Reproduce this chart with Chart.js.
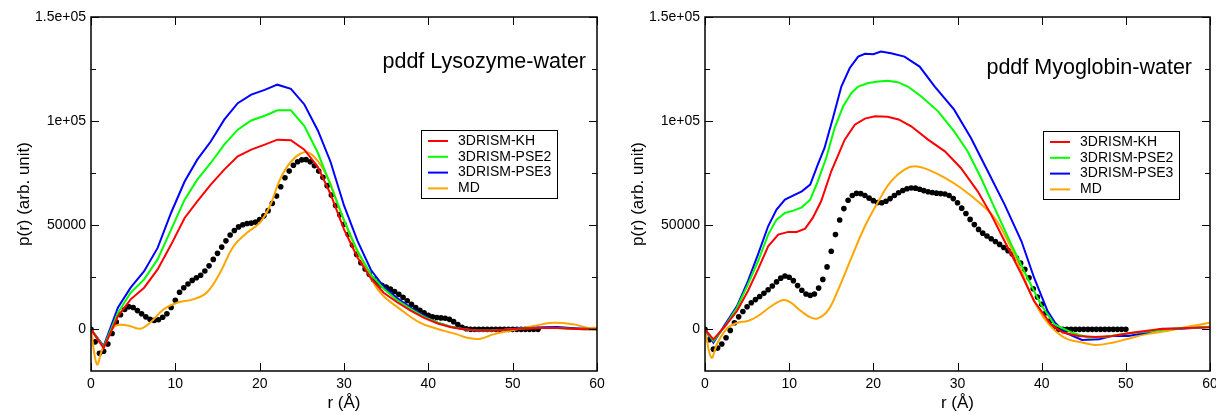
<!DOCTYPE html>
<html>
<head>
<meta charset="utf-8">
<script src="https://cdn.jsdelivr.net/npm/chart.js@4.4.1/dist/chart.umd.min.js"></script>
<style>
  html, body { margin: 0; padding: 0; background: #fff; }
  #wrap { display: flex; width: 1216px; height: 414px; }
</style>
</head>
<body>
<div id="wrap">
  <canvas id="lyso" width="608" height="414"></canvas>
  <canvas id="myo" width="608" height="414"></canvas>
</div>
<script>
const seriesNames = ['3DRISM-KH', '3DRISM-PSE2', '3DRISM-PSE3', 'MD'];
const seriesColors = ['#ff0000', '#00ff00', '#0000ff', '#ffa500'];

const xMajor = [0, 10, 20, 30, 40, 50, 60];
const yMajor = [0, 50000, 100000, 150000];
const yTickText = ['0', '50000', '1e+05', '1.5e+05'];
const yMinor = [25000, 75000, 125000];

// Lysozyme-water
const lysoGridR = [0, 1.5, 3.2, 4.7, 6.3, 7.9, 9.5, 11.1, 12.6, 14.2, 15.8, 17.4, 19.0, 20.6, 22.1, 23.7, 25.3, 26.9, 28.4, 30.0,
  31.6, 33.2, 34.7, 36.3, 37.9, 39.5, 41.1, 42.7, 44.2, 45.8, 47.4, 49.0, 50.6, 52.1, 53.7, 55.3, 56.9, 58.5, 60];
const lysoKH = [0, -9000, 6400, 14400, 20000, 28800, 40700, 53500, 61500, 69500, 76700, 83100, 86300, 88700, 91100, 90800, 86300, 78000, 65000, 48000,
  34500, 24500, 17600, 13000, 9000, 5500, 2800, 1000, 0, -600, -500, -200, 300, 500, 700, 600, 300, 0, 0];
const lysoPSE2 = [0, -8500, 8000, 17600, 24000, 33600, 47900, 62300, 71900, 79900, 88700, 95900, 100300, 102600, 105200, 105200, 97600, 84800, 69200, 52500,
  37600, 26300, 19500, 14000, 9800, 6000, 3200, 1200, 0, -600, -500, -200, 300, 500, 700, 600, 300, 0, 0];
const lysoPSE3 = [0, -8000, 10500, 20000, 27900, 39100, 56000, 71000, 81500, 90200, 100700, 108600, 112700, 115000, 117500, 115500, 108000, 95500, 80500, 59500,
  42500, 28500, 20500, 15000, 10500, 6500, 3200, 1200, 0, -800, -600, -200, 500, 700, 1000, 1100, 700, 300, 0];
const lysoMDR = [0, 0.7, 1.3, 1.9, 2.9, 4.3, 5.8, 7.0, 8.6, 10.2, 12.1, 13.7, 15.3, 16.9, 18.5, 20.0, 21.2, 22.4, 23.6, 25.2,
  26.4, 28.0, 29.5, 31.1, 32.7, 34.3, 36.7, 39.0, 41.0, 43.4, 44.6, 46.2, 47.7, 50.1, 52.5, 54.8, 57.2, 58.8, 60];
const lysoMD = [0, -16800, -10000, -4800, 1600, 1900, 300, 3200, 9600, 12800, 14400, 17600, 27200, 39900, 46400, 51100, 59100, 71900, 79900, 85000,
  83100, 73500, 57500, 41600, 28800, 17600, 9600, 3200, 300, -2400, -4000, -4500, -2400, -300, 1600, 3200, 2400, 800, 800];
// experimental points, every 0.5 A from r = 0
const lysoExpStep = 0.5;
const lysoExp = [0, -6000, -11500, -10500, -7000, -2000, 3500, 7000, 9500, 10800,
  10500, 9000, 7500, 6000, 4800, 4300, 4600, 5800, 7500, 10500,
  14000, 17800, 20000, 21800, 23500, 24800, 26000, 28000, 30500, 33600,
  36500, 39500, 42500, 45300, 47500, 49200, 50200, 50800, 51000, 51500,
  52700, 54500, 57000, 60500, 64000, 68500, 72800, 76000, 78800, 80500,
  81400, 81500, 80500, 78600, 76000, 73000, 69000, 64500, 59500, 55000,
  50500, 45500, 40500, 36000, 32000, 29000, 26500, 24000, 22300, 21200,
  20300, 19300, 18200, 16800, 15400, 13700, 12000, 10500, 9200, 8000,
  6800, 6000, 5700, 5500, 5300, 4800, 3700, 2300, 1000, 300,
  0, 0, 0, 0, 0, 0, 0, 0, 0, 0, 0, 0, 0, 0, 0, 0, 0];

// Myoglobin-water
const myoKHR = [0, 1.0, 2.4, 3.8, 5.1, 6.3, 7.5, 8.7, 9.9, 10.9, 11.9, 12.8, 13.8, 15.0, 16.6, 17.8, 19.0, 20.2, 21.7, 23.0,
  24.5, 26.5, 28.5, 30.4, 32.4, 34.0, 35.6, 37.6, 39.1, 41.1, 42.5, 44.4, 46.4, 48.4, 50.7, 53.9, 56.5, 60];
const myoKH = [0, -4800, 1600, 8800, 18400, 28800, 39900, 45500, 46800, 46800, 48400, 53500, 61500, 75900, 91100, 98300, 101200, 102300, 102100, 100800,
  97500, 91100, 85500, 77500, 66300, 55100, 42300, 26400, 13600, 2400, -1500, -3200, -3700, -3200, -1600, 0, 500, 1000];
const myoPSE2R = [0, 1.0, 2.4, 3.8, 5.1, 6.3, 7.5, 8.5, 9.5, 10.5, 11.5, 12.5, 13.4, 14.4, 15.4, 16.4, 17.4, 18.2, 19.4, 20.6,
  21.7, 22.9, 24.1, 25.7, 27.7, 29.6, 31.2, 32.8, 34.4, 36.4, 38.3, 39.9, 41.5, 43.6, 45.6, 47.6, 49.5, 52.3, 55.5, 58, 60];
const myoPSE2 = [0, -5600, 1600, 10400, 21600, 32700, 45500, 52700, 55900, 57000, 58600, 62300, 71100, 82300, 96700, 107000, 113500, 116600, 118300, 119000,
  119400, 118700, 116600, 111800, 104700, 95100, 85500, 72700, 58300, 40700, 24800, 12000, 2400, -1600, -4000, -3500, -2400, -1100, 300, 800, 1200];
const myoPSE3R = [0, 1.0, 2.4, 3.8, 5.1, 6.3, 7.5, 8.5, 9.5, 10.7, 11.5, 12.5, 13.4, 14.2, 15.2, 16.2, 17.2, 18.2, 19.0, 20.0,
  20.9, 22.1, 23.7, 25.5, 27.3, 29.6, 31.6, 33.6, 35.6, 37.6, 39.1, 40.7, 41.6, 42.8, 44.8, 46.8, 48.3, 50.3, 52.3, 54.3, 56.6, 59.8];
const myoPSE3 = [0, -6400, 2400, 11200, 23200, 36000, 49500, 57500, 62300, 64700, 66300, 69500, 79100, 87100, 101500, 116600, 125500, 131000, 132300, 132100,
  133400, 132600, 131000, 126200, 116600, 105500, 91900, 75900, 59900, 42300, 24800, 8800, 3200, -1600, -5100, -4800, -3200, -3200, -1600, 300, 300, 1100];
const myoMDR = [0, 0.76, 1.5, 2.7, 3.9, 5.1, 6.3, 7.9, 9.3, 10.2, 11.4, 12.6, 13.4, 14.6, 15.8, 17.4, 19.0, 20.6, 22.1, 23.7,
  24.9, 26.5, 28.5, 30.4, 32.4, 34.4, 36.0, 37.6, 39.1, 40.7, 42.7, 44.9, 46.4, 48.4, 50.3, 52.3, 55.5, 57.8, 60];
const myoMD = [0, -13600, -6400, 800, 3200, 4000, 6400, 11200, 14100, 12800, 8800, 5600, 5300, 9000, 18800, 34400, 49500, 61500, 71100, 76700,
  78300, 76700, 72700, 67900, 61500, 53500, 42300, 27900, 13600, 3200, -4000, -6400, -7500, -6400, -4500, -2400, -300, 1600, 3200];
const myoExpStep = 0.5;
const myoExp = [0, -5000, -9500, -9000, -7000, -4000, -500, 3200, 6000, 8600,
  10800, 12800, 14300, 15800, 17300, 19000, 20800, 22800, 24600, 25600,
  25000, 23400, 21000, 18800, 17000, 16300, 17000, 19800, 24000, 30000,
  37500, 45500, 52500, 58000, 62000, 64300, 65300, 65200, 64300, 63000,
  61800, 60900, 60800, 61500, 62800, 64300, 65600, 66700, 67500, 67900,
  67800, 67300, 66600, 66100, 65700, 65400, 65200, 65000, 64300, 62800,
  60800, 58200, 55600, 52800, 50300, 48000, 46200, 44800, 43500, 42200,
  40800, 39300, 37800, 36200, 34200, 31800, 28800, 24800, 19500, 15500,
  12000, 8000, 4000, 1500,
  0, 0, 0, 0, 0, 0, 0, 0, 0, 0, 0, 0, 0, 0, 0, 0, 0];

Chart.defaults.font.family = '"Liberation Sans", Arial, Helvetica, sans-serif';
Chart.defaults.color = '#000';

function pts(rs, vals) {
  return vals.map((v, i) => ({ x: rs[i], y: v }));
}
function expPts(step, vals) {
  return vals.map((v, i) => ({ x: i * step, y: v }));
}

// frame, inward ticks, title text and legend box
const decor = {
  id: 'decor',
  afterDatasetsDraw(chart, args, opts) {
    const { ctx, chartArea: a, scales: { x, y } } = chart;
    ctx.save();
    ctx.strokeStyle = '#000';
    ctx.lineWidth = 1;
    ctx.beginPath();
    xMajor.forEach(v => {
      const px = Math.round(x.getPixelForValue(v)) + 0.5;
      ctx.moveTo(px, a.bottom); ctx.lineTo(px, a.bottom - 8);
      ctx.moveTo(px, a.top); ctx.lineTo(px, a.top + 8);
    });
    yMajor.forEach(v => {
      const py = Math.round(y.getPixelForValue(v)) + 0.5;
      ctx.moveTo(a.left, py); ctx.lineTo(a.left + 8, py);
      ctx.moveTo(a.right, py); ctx.lineTo(a.right - 8, py);
    });
    yMinor.forEach(v => {
      const py = Math.round(y.getPixelForValue(v)) + 0.5;
      ctx.moveTo(a.left, py); ctx.lineTo(a.left + 5, py);
      ctx.moveTo(a.right, py); ctx.lineTo(a.right - 5, py);
    });
    ctx.stroke();
    ctx.lineWidth = 1.5;
    ctx.strokeRect(a.left, a.top, a.width, a.height);

    ctx.fillStyle = '#000';
    ctx.font = '21.5px "Liberation Sans", Arial, sans-serif';
    ctx.textAlign = 'right';
    ctx.textBaseline = 'alphabetic';
    ctx.fillText(opts.title, a.right - opts.titleRight, opts.titleY);

    const lx = opts.legendX, ly = opts.legendY;
    ctx.fillStyle = '#fff';
    ctx.fillRect(lx, ly, 136, 68);
    ctx.lineWidth = 1;
    ctx.strokeStyle = '#000';
    ctx.strokeRect(lx + 0.5, ly + 0.5, 136, 68);
    ctx.font = '14px "Liberation Sans", Arial, sans-serif';
    ctx.textAlign = 'left';
    ctx.textBaseline = 'middle';
    seriesNames.forEach((name, i) => {
      const ry = ly + 11 + i * 15.8;
      ctx.strokeStyle = seriesColors[i];
      ctx.lineWidth = 2;
      ctx.beginPath();
      ctx.moveTo(lx + 7, ry); ctx.lineTo(lx + 27, ry);
      ctx.stroke();
      ctx.fillStyle = '#000';
      ctx.fillText(name, lx + 37, ry);
    });
    ctx.restore();
  }
};

function makeChart(id, lines, exp, o) {
  const datasets = lines.map((d, i) => ({
    label: seriesNames[i],
    data: d,
    borderColor: seriesColors[i],
    backgroundColor: seriesColors[i],
    borderWidth: 2,
    pointRadius: 0,
    tension: i === 3 ? 0.4 : 0,
    fill: false
  }));
  datasets.push({
    label: 'exp',
    data: exp,
    showLine: false,
    pointRadius: 2.8,
    pointBorderWidth: 0,
    backgroundColor: '#000',
    borderColor: '#000'
  });
  return new Chart(document.getElementById(id), {
    type: 'line',
    data: { datasets },
    options: {
      responsive: false,
      animation: false,
      layout: { padding: { left: o.padLeft, right: o.padRight, top: 17, bottom: 0 } },
      plugins: {
        legend: { display: false },
        tooltip: { enabled: false },
        decor: o
      },
      scales: {
        x: {
          type: 'linear',
          min: 0, max: 60,
          grid: { display: false, drawTicks: false },
          border: { display: false },
          afterBuildTicks: s => { s.ticks = xMajor.map(v => ({ value: v })); },
          afterFit: s => { s.height = 43; s.paddingLeft = 0; s.paddingRight = 0; },
          ticks: { padding: 5, font: { size: 14 }, maxRotation: 0 },
          title: { display: true, text: 'r (Å)', font: { size: 17 }, padding: { top: 0, bottom: 0 } }
        },
        y: {
          min: -20000, max: 150000,
          grid: { display: false, drawTicks: false },
          border: { display: false },
          afterBuildTicks: s => { s.ticks = yMajor.map(v => ({ value: v })); },
          afterFit: s => { s.width = 81; },
          ticks: {
            padding: 5,
            font: { size: 14 },
            callback: v => yTickText[yMajor.indexOf(v)]
          },
          title: { display: true, text: 'p(r) (arb. unit)', font: { size: 17 }, padding: { top: 4, bottom: 4 } }
        }
      }
    },
    plugins: [decor]
  });
}

makeChart('lyso',
  [pts(lysoGridR, lysoKH), pts(lysoGridR, lysoPSE2), pts(lysoGridR, lysoPSE3), pts(lysoMDR, lysoMD)],
  expPts(lysoExpStep, lysoExp),
  { padLeft: 10, padRight: 11, title: 'pddf Lysozyme-water', titleRight: 11, titleY: 68, legendX: 421, legendY: 130 });

makeChart('myo',
  [pts(myoKHR, myoKH), pts(myoPSE2R, myoPSE2), pts(myoPSE3R, myoPSE3), pts(myoMDR, myoMD)],
  expPts(myoExpStep, myoExp),
  { padLeft: 16, padRight: 6, title: 'pddf Myoglobin-water', titleRight: 18, titleY: 74, legendX: 435, legendY: 131 });
</script>
</body>
</html>
